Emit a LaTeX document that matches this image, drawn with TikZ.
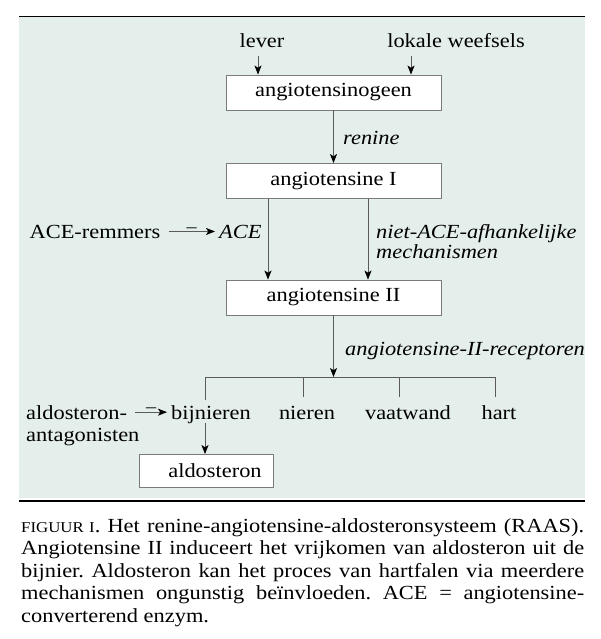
\documentclass[tikz,border=0pt]{standalone}
\usepackage{fontspec}
\setmainfont{Liberation Serif}[FakeStretch=1.12]
\usetikzlibrary{arrows.meta}
\definecolor{bgc}{HTML}{E4EEEA}
\definecolor{lnc}{HTML}{5A5A5A}
\definecolor{bxc}{HTML}{7A7A7A}
\frenchspacing
\begin{document}
\begin{tikzpicture}[x=1pt,y=-1pt,
  every node/.style={inner sep=0pt, font=\fontsize{20}{22.5}\selectfont},
  lbl/.style={anchor=base},
  lblw/.style={anchor=base west},
  it/.style={anchor=base west, font=\fontsize{20}{22.5}\selectfont\itshape},
  box/.style={draw=bxc, fill=white, line width=0.9pt, minimum width=215pt, minimum height=35pt},
  arr/.style={draw=lnc, line width=0.9pt, -{Stealth[length=9pt,width=7pt,inset=2.2pt,color=black]}},
  ln/.style={draw=lnc, line width=0.9pt},
  minus/.style={font=\fontsize{18}{18}\selectfont, above=-1pt}]
\useasboundingbox (0,0) rectangle (600,639);
\fill[bgc] (19,17) rectangle (585,498);
\draw[line width=1.6pt] (19,16.5) -- (585,16.5);
\draw[line width=1.6pt] (19,501) -- (585,501);

% top inputs
\node[lbl] (lever) at (262,48) {lever};
\node[lbl] (lokale) at (456,48) {lokale weefsels};
\node[box] (ag) at (333.5,92.5) {angiotensinogeen};
\coordinate (lvt) at (258,56);
\coordinate (lkt) at (411,56);
\draw[arr] (lvt) -- (lvt |- ag.north);
\draw[arr] (lkt) -- (lkt |- ag.north);

% renine
\node[box] (a1) at (333.5,181) {angiotensine I};
\draw[arr] (ag) -- (a1);
\node[it] (renine) at (343,145) {renine};

% ACE
\node[lbl] (remmers) at (95,238) {ACE-remmers};
\node[it] (ace) at (219,238) {ACE};
\draw[arr] ([xshift=8pt]remmers.east) -- ([xshift=-4pt]remmers.east -| ace.west)
  node[midway, minus] (m1) {--};
\node[it] (niet) at (376,238) {niet-ACE-afhankelijke};
\node[it] (mech) at (376,258) {mechanismen};

\node[box] (a2) at (333.5,297.5) {angiotensine II};
\coordinate (xl) at (268,0);
\coordinate (xr) at (368,0);
\draw[arr] (a1.south -| xl) -- (a2.north -| xl);
\draw[arr] (a1.south -| xr) -- (a2.north -| xr);

% receptors
\coordinate (bar) at (333.5,377);
\draw[arr] (a2) -- (bar);
\node[it] (rec) at (345,355) {angiotensine-II-receptoren};

\coordinate (b1) at (205,377);
\coordinate (b2) at (303,377);
\coordinate (b3) at (399,377);
\coordinate (b4) at (495,377);
\draw[ln] (b1) -- (b4);
\draw[ln] (b1) -- ++(0,23);
\draw[ln] (b2) -- ++(0,20);
\draw[ln] (b3) -- ++(0,20);
\draw[ln] (b4) -- ++(0,20);

\node[lbl] (bij) at (211,419) {bijnieren};
\node[lbl] (nier) at (307,419) {nieren};
\node[lbl] (vaat) at (408,419) {vaatwand};
\node[lbl] (hart) at (499,419) {hart};

\node[lblw] (ald1) at (26,419) {aldosteron-};
\node[lblw] (ald2) at (26,441) {antagonisten};
\draw[arr] ([xshift=8pt]ald1.east) -- ([xshift=-4pt]ald1.east -| bij.west)
  node[midway, minus] (m2) {--};

\node[box, minimum width=134pt, minimum height=33pt] (ald) at (206.5,471) {\hspace*{17pt}aldosteron};
\draw[arr] (bij.south -| b1) -- (b1 |- ald.north);

% caption
\node[lblw] (cap1) at (21,532) {\makebox[563pt][s]{{\fontsize{15}{15}\selectfont FIGUUR I}. Het renine-angiotensine-aldosteronsysteem (RAAS).}};
\node[lblw] (cap2) at (21,554.5) {\makebox[563pt][s]{Angiotensine II induceert het vrijkomen van aldosteron uit de}};
\node[lblw] (cap3) at (21,577) {\makebox[563pt][s]{bijnier. Aldosteron kan het proces van hartfalen via meerdere}};
\node[lblw] (cap4) at (21,599.5) {\makebox[563pt][s]{mechanismen ongunstig beïnvloeden. ACE = angiotensine-}};
\node[lblw] (cap5) at (21,622) {converterend enzym.};
\end{tikzpicture}
\end{document}
